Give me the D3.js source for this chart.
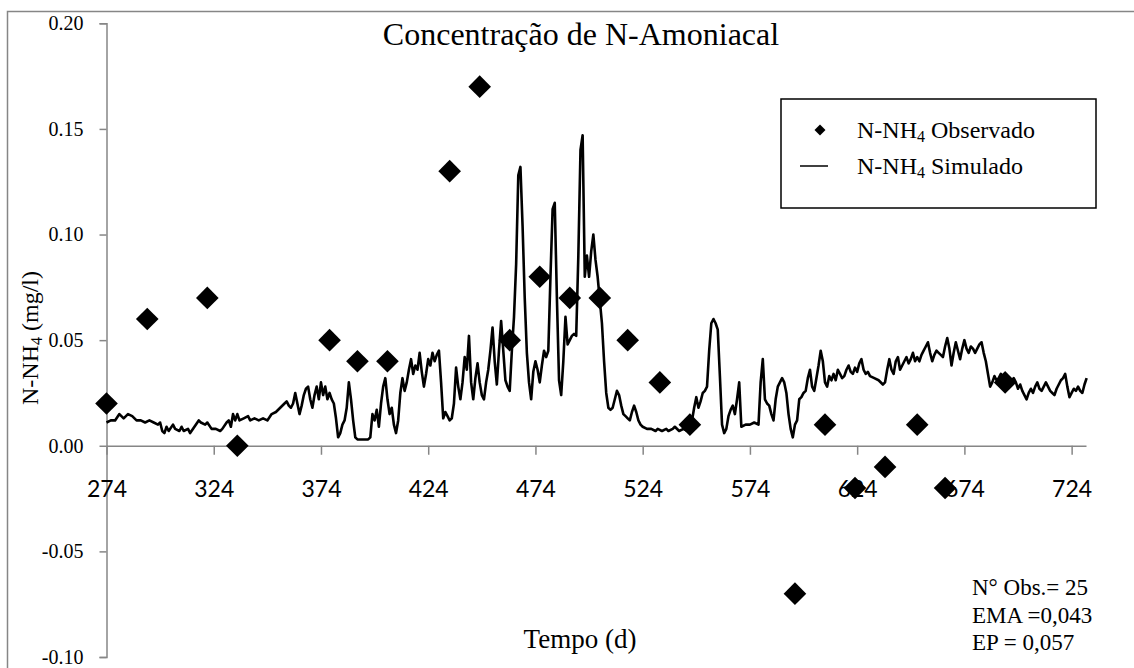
<!DOCTYPE html>
<html><head><meta charset="utf-8">
<script src="https://cdn.jsdelivr.net/npm/d3@7"></script>
<style>body{margin:0;background:#fff}svg{display:block}</style>
</head><body>
<svg id="c" width="1134" height="668"></svg>
<script>
// ---- data ----
const obsDay = [274,293,321,335,378,391,405,434,448,462,476,490,504,517,532,546,595,609,623,637,652,665,693];
const obsVal = [0.02,0.06,0.07,0.00,0.05,0.04,0.04,0.13,0.17,0.05,0.08,0.07,0.07,0.05,0.03,0.01,-0.07,0.01,-0.02,-0.01,0.01,-0.02,0.03];
const simDay = [274,276,278,280,282,284,286,288,290,292,294,296,298,299,300,301,302,303,305,306,308,309,310,312,313,315,317,318,320,321,323,325,327,328,330,331,332,333,334,335,336,338,340,341,343,345,347,349,351,353,355,357,358,359,360,361,362,363,364,365,366,367,368,369,370,371,372,373,374,375,376,377,378,379,380,381,382,383,384,385,386,387,388,389,390,391,396,397,398,399,400,401,402,403,404,405,406,407,408,409,410,411,412,413,414,415,416,417,418,419,420,421,422,423,424,425,426,427,428,429,430,431,432,433,434,435,436,437,438,439,440,441,442,443,444,445,446,447,448,449,450,451,452,453,454,455,456,457,458,459,460,461,462,463,464,465,466,467,468,469,470,471,472,473,474,475,476,477,478,479,480,481,482,483,484,485,486,487,488,489,490,491,492,493,494,495,496,497,498,499,500,501,502,503,504,505,506,507,508,509,510,511,512,513,514,515,516,517,518,519,520,521,522,523,524,526,528,530,531,533,535,536,538,539,541,543,545,546,547,548,549,550,551,552,553,554,555,556,557,558,559,560,561,562,563,564,565,566,567,568,569,570,572,574,576,578,579,580,581,582,583,584,585,586,587,588,589,590,591,592,593,594,595,596,597,598,599,600,601,602,603,604,605,606,607,608,609,610,611,612,613,614,615,616,617,618,619,620,621,622,623,624,625,626,627,628,629,630,632,634,636,637,638,639,640,641,642,643,644,645,646,647,648,649,650,651,652,653,654,655,656,657,658,659,660,661,662,663,664,665,666,667,668,669,670,671,672,673,674,675,676,677,678,679,680,681,682,683,684,685,686,687,688,689,690,691,692,693,694,695,697,698,699,700,701,702,703,704,705,706,707,708,709,710,711,712,713,714,715,716,717,718,719,720,721,722,723,724,725,726,727,728,729,730,731];
const simVal = [0.011,0.012,0.012,0.015,0.013,0.015,0.014,0.012,0.012,0.011,0.012,0.011,0.010,0.011,0.007,0.006,0.009,0.007,0.010,0.008,0.007,0.009,0.007,0.008,0.006,0.009,0.012,0.011,0.010,0.011,0.008,0.008,0.007,0.008,0.011,0.012,0.009,0.015,0.012,0.015,0.012,0.013,0.014,0.012,0.013,0.012,0.013,0.012,0.015,0.016,0.018,0.020,0.021,0.019,0.018,0.020,0.025,0.020,0.015,0.019,0.024,0.027,0.028,0.022,0.018,0.024,0.028,0.022,0.030,0.024,0.028,0.022,0.025,0.022,0.020,0.013,0.004,0.006,0.010,0.012,0.018,0.030,0.022,0.012,0.004,0.003,0.003,0.004,0.015,0.012,0.017,0.009,0.020,0.028,0.032,0.022,0.015,0.018,0.010,0.006,0.012,0.025,0.032,0.026,0.030,0.036,0.041,0.034,0.038,0.036,0.044,0.035,0.028,0.034,0.041,0.038,0.044,0.040,0.043,0.045,0.030,0.013,0.016,0.014,0.012,0.013,0.020,0.037,0.028,0.022,0.030,0.042,0.036,0.052,0.030,0.022,0.032,0.039,0.030,0.024,0.022,0.030,0.036,0.045,0.056,0.040,0.029,0.045,0.059,0.045,0.031,0.028,0.026,0.045,0.061,0.086,0.128,0.132,0.104,0.070,0.044,0.030,0.022,0.035,0.040,0.036,0.030,0.038,0.045,0.042,0.045,0.080,0.112,0.115,0.070,0.031,0.024,0.040,0.061,0.048,0.050,0.052,0.053,0.052,0.090,0.140,0.147,0.080,0.090,0.080,0.092,0.100,0.088,0.080,0.069,0.058,0.040,0.025,0.018,0.017,0.018,0.022,0.026,0.024,0.019,0.015,0.014,0.013,0.012,0.016,0.019,0.016,0.012,0.010,0.009,0.008,0.008,0.007,0.008,0.007,0.008,0.007,0.008,0.009,0.007,0.008,0.007,0.008,0.012,0.018,0.023,0.018,0.021,0.025,0.026,0.028,0.045,0.058,0.060,0.058,0.055,0.033,0.010,0.006,0.008,0.014,0.017,0.019,0.015,0.022,0.030,0.009,0.010,0.010,0.011,0.010,0.030,0.041,0.022,0.020,0.019,0.015,0.012,0.022,0.028,0.030,0.032,0.030,0.025,0.015,0.008,0.004,0.010,0.012,0.022,0.023,0.025,0.026,0.032,0.036,0.028,0.026,0.032,0.038,0.045,0.040,0.030,0.028,0.033,0.031,0.034,0.031,0.036,0.034,0.032,0.033,0.036,0.038,0.035,0.034,0.037,0.035,0.039,0.041,0.036,0.034,0.035,0.033,0.032,0.031,0.029,0.030,0.036,0.041,0.036,0.034,0.040,0.042,0.036,0.038,0.040,0.042,0.039,0.041,0.044,0.040,0.042,0.040,0.043,0.045,0.047,0.049,0.044,0.040,0.043,0.045,0.044,0.043,0.042,0.047,0.051,0.046,0.038,0.044,0.049,0.045,0.041,0.046,0.050,0.046,0.044,0.047,0.046,0.044,0.046,0.048,0.049,0.044,0.040,0.034,0.028,0.030,0.033,0.031,0.032,0.034,0.033,0.030,0.028,0.030,0.032,0.030,0.027,0.029,0.026,0.024,0.022,0.025,0.027,0.025,0.028,0.030,0.027,0.026,0.028,0.030,0.028,0.026,0.025,0.024,0.027,0.029,0.031,0.032,0.034,0.028,0.023,0.025,0.027,0.026,0.028,0.026,0.025,0.029,0.032];
const xTicks = [274,324,374,424,474,524,574,624,674,724];
const yTicks = [-0.10,-0.05,0.00,0.05,0.10,0.15,0.20];
const title = "Concentração de N-Amoniacal";
const statLines = ["N° Obs.= 25","EMA =0,043","EP = 0,057"];

// ---- drawing ----
const svg = d3.select("#c");
const serif = "'Liberation Serif','Times New Roman',serif";
const x = d3.scaleLinear().domain([274, 730.7]).range([106.5, 1086]);
const y = d3.scaleLinear().domain([-0.10, 0.20]).range([657, 23.3]);
const axisCol = "#868686";

// outer frame
svg.append("rect").attr("x",7.5).attr("y",11.5).attr("width",1200).attr("height",700)
  .attr("fill","none").attr("stroke",axisCol).attr("stroke-width",1.5);

// y axis
const f2 = d3.format(".2f");
const ya = svg.append("g").attr("transform",`translate(${x(274)},0)`)
  .call(d3.axisLeft(y).tickValues(yTicks).tickSize(7).tickPadding(16).tickFormat(d=>f2(d).replace("\u2212","-")));
ya.select(".domain").attr("stroke",axisCol).attr("stroke-width",1.5);
ya.selectAll(".tick line").attr("stroke",axisCol).attr("stroke-width",1.5);
ya.selectAll("text").attr("font-family",serif).attr("font-size",20).attr("fill","#000");

// x axis at zero
const xa = svg.append("g").attr("transform",`translate(0,${y(0)})`)
  .call(d3.axisBottom(x).tickValues(xTicks).tickSize(9).tickPadding(42).tickSizeOuter(0).tickFormat(d3.format("d")));
xa.select(".domain").attr("stroke",axisCol).attr("stroke-width",1.5);
xa.selectAll(".tick line").attr("stroke",axisCol).attr("stroke-width",1.5);
xa.selectAll("text").attr("font-family","Lato, 'Open Sans', sans-serif").attr("font-size",23).attr("fill","#000").attr("dy","0");

// simulated line
const simData = simDay.map((d,i)=>({d, v: simVal[i]}));
svg.append("path").datum(simData)
  .attr("fill","none").attr("stroke","#000").attr("stroke-width",2.6).attr("stroke-linejoin","round")
  .attr("d", d3.line().x(p=>x(p.d)).y(p=>y(p.v)));

// observed diamonds
const diamond = d3.symbol().type(d3.symbolSquare).size(256);
svg.append("g").selectAll("path").data(obsDay.map((d,i)=>({d, v: obsVal[i]})))
  .join("path").attr("d", diamond)
  .attr("transform", p=>`translate(${x(p.d)},${y(p.v)}) rotate(45)`)
  .attr("fill","#000");

// title
svg.append("text").attr("x",581).attr("y",45).attr("text-anchor","middle")
  .attr("font-family",serif).attr("font-size",32).text(title);

// axis titles
const yt = svg.append("text").attr("transform","translate(38,338) rotate(-90)")
  .attr("text-anchor","middle").attr("font-family",serif).attr("font-size",24);
yt.append("tspan").text("N-NH");
yt.append("tspan").attr("font-size",16).attr("dy",4).text("4");
yt.append("tspan").attr("dy",-4).text(" (mg/l)");

svg.append("text").attr("x",580).attr("y",648).attr("text-anchor","middle")
  .attr("font-family",serif).attr("font-size",27).text("Tempo (d)");

// legend
const lg = svg.append("g");
lg.append("rect").attr("x",781).attr("y",99).attr("width",315).attr("height",109)
  .attr("fill","#fff").attr("stroke","#000").attr("stroke-width",1.5);
lg.append("path").attr("d", d3.symbol().type(d3.symbolSquare).size(60))
  .attr("transform","translate(820,130) rotate(45)").attr("fill","#000");
lg.append("line").attr("x1",800).attr("x2",828).attr("y1",166).attr("y2",166)
  .attr("stroke","#000").attr("stroke-width",1.5);
const legNames = ["Observado","Simulado"];
legNames.forEach((n,i)=>{
  const t = lg.append("text").attr("x",857).attr("y",138+i*36).attr("font-family",serif).attr("font-size",24);
  t.append("tspan").text("N-NH");
  t.append("tspan").attr("font-size",16).attr("dy",4).text("4");
  t.append("tspan").attr("dy",-4).text(" "+n);
});

// stats
statLines.forEach((s,i)=>{
  svg.append("text").attr("x",972).attr("y",595+i*27.5).attr("font-family",serif).attr("font-size",23).text(s);
});
</script>
</body></html>
